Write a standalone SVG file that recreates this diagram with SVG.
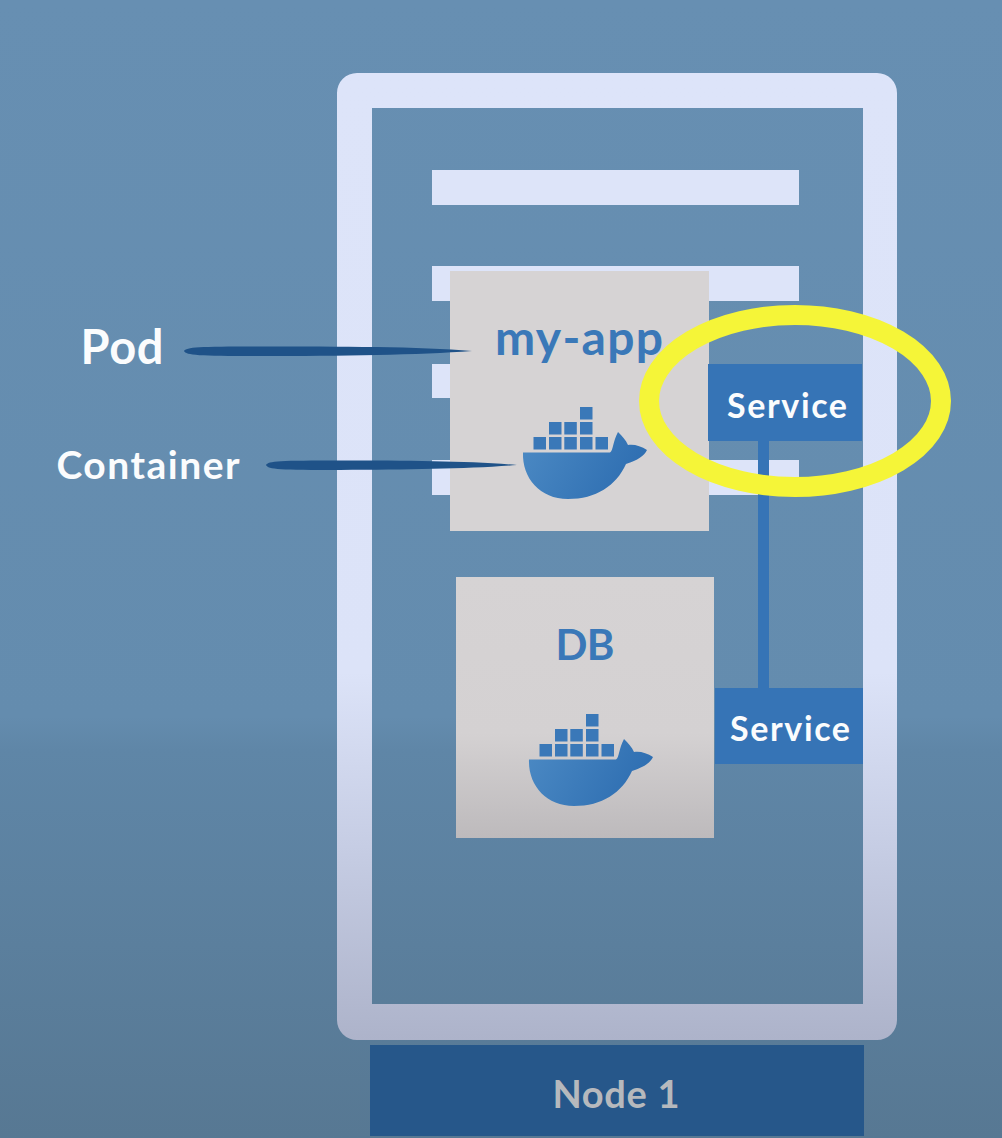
<svg xmlns="http://www.w3.org/2000/svg" width="1002" height="1138" viewBox="0 0 1002 1138">
<style>
text{font-family:"Lato","Liberation Sans",sans-serif;font-weight:700;text-anchor:middle}
.lbl{fill:#fbfcfd}
.blue{fill:#3a78b8}
.svc{fill:#3674b6}
.box{fill:#d6d3d4}
.bar{fill:#dde4f9}
.brush{fill:#1f5288}
</style>
<defs>
<linearGradient id="bg" gradientUnits="userSpaceOnUse" x1="0" y1="0" x2="0" y2="1138">
<stop offset="0" stop-color="#678fb2"/><stop offset="0.63" stop-color="#648cae"/><stop offset="0.66" stop-color="#5f86a7"/><stop offset="1" stop-color="#577893"/>
</linearGradient>
<linearGradient id="frameFill" gradientUnits="userSpaceOnUse" x1="0" y1="73" x2="0" y2="1040">
<stop offset="0" stop-color="#dde4f9"/><stop offset="0.62" stop-color="#dce3f8"/><stop offset="0.8" stop-color="#c6cde4"/><stop offset="1" stop-color="#adb3ca"/>
</linearGradient>
<linearGradient id="hull" x1="0" y1="0" x2="1" y2="0.3">
<stop offset="0" stop-color="#4c8ac4"/><stop offset="1" stop-color="#2f6fb2"/>
</linearGradient>
<linearGradient id="dbBox" gradientUnits="userSpaceOnUse" x1="0" y1="577" x2="0" y2="838">
<stop offset="0" stop-color="#d6d3d4"/><stop offset="0.6" stop-color="#d4d1d2"/><stop offset="1" stop-color="#bdbabc"/>
</linearGradient>
<g id="whale">
<g class="blue">
<rect x="580" y="407" width="12.5" height="12.5"/>
<rect x="549" y="422" width="12.5" height="12.5"/><rect x="564.3" y="422" width="12.5" height="12.5"/><rect x="580" y="422" width="12.5" height="12.5"/>
<rect x="533.5" y="437" width="12.5" height="12.5"/><rect x="549" y="437" width="12.5" height="12.5"/><rect x="564.3" y="437" width="12.5" height="12.5"/><rect x="580" y="437" width="12.5" height="12.5"/><rect x="595.5" y="437" width="12.5" height="12.5"/>
</g>
<path fill="url(#hull)" d="M523 452.5H610C613 451 613 441 618 432C622 436 626 440 628 445C634 444 641 446 647 450C644 456 638 460 626 464C616 486 596 499 568 499C540 499 522 478 523 452.5Z"/>
</g>
</defs>
<rect id="background" width="1002" height="1138" fill="url(#bg)"/>

<g id="node-1">
<path fill="url(#frameFill)" fill-rule="evenodd" d="M357 73H877A20 20 0 0 1 897 93V1020A20 20 0 0 1 877 1040H357A20 20 0 0 1 337 1020V93A20 20 0 0 1 357 73ZM372 108V1004H863V108Z"/>
<rect class="bar" x="432" y="170" width="367" height="35"/>
<rect class="bar" x="432" y="266" width="367" height="35"/>
<rect class="bar" x="432" y="364" width="367" height="34"/>
<rect class="bar" x="432" y="460" width="367" height="35"/>
<rect x="370" y="1045" width="494" height="91" fill="#26578a"/>
<text x="616" y="1108" font-size="38" fill="#b6b9bd" textLength="127">Node 1</text>
</g>

<g id="pod-my-app">
<rect class="box" x="450" y="271" width="259" height="260"/>
<text class="blue" x="579" y="355" font-size="48" textLength="168">my-app</text>
<use href="#whale"/>
</g>

<g id="pod-db">
<rect x="456" y="577" width="258" height="261" fill="url(#dbBox)"/>
<text class="blue" x="585" y="660" font-size="42" textLength="59">DB</text>
<use href="#whale" x="6" y="307"/>
</g>

<g id="connectors">
<rect class="svc" x="758" y="441" width="11" height="247"/>
<path class="brush" d="M184 351C186 347 200 346.500 260 346.500C340 346.500 420 346.500 472 351C420 355 340 356 260 356C200 356 186 355.500 184 351Z"/>
<path class="brush" d="M266 465C268 461 280 460.500 340 460.500C410 460.500 470 461 517 465C470 469 410 469.500 340 470C280 470 268 469.500 266 465Z"/>
</g>

<g id="service-my-app">
<rect class="svc" x="708" y="364" width="154" height="77"/>
<text class="lbl" x="787" y="418" font-size="34" textLength="120">Service</text>
</g>

<g id="service-db">
<rect class="svc" x="715" y="688" width="148" height="76"/>
<text class="lbl" x="790" y="741" font-size="34" textLength="120">Service</text>
</g>

<g id="label-pod"><text class="lbl" x="122" y="364" font-size="47" textLength="83">Pod</text></g>
<g id="label-container"><text class="lbl" x="148" y="479" font-size="39" textLength="183">Container</text></g>

<g id="highlight">
<ellipse cx="795" cy="401" rx="146" ry="86" fill="none" stroke="#f5f538" stroke-width="20"/>
</g>
</svg>
